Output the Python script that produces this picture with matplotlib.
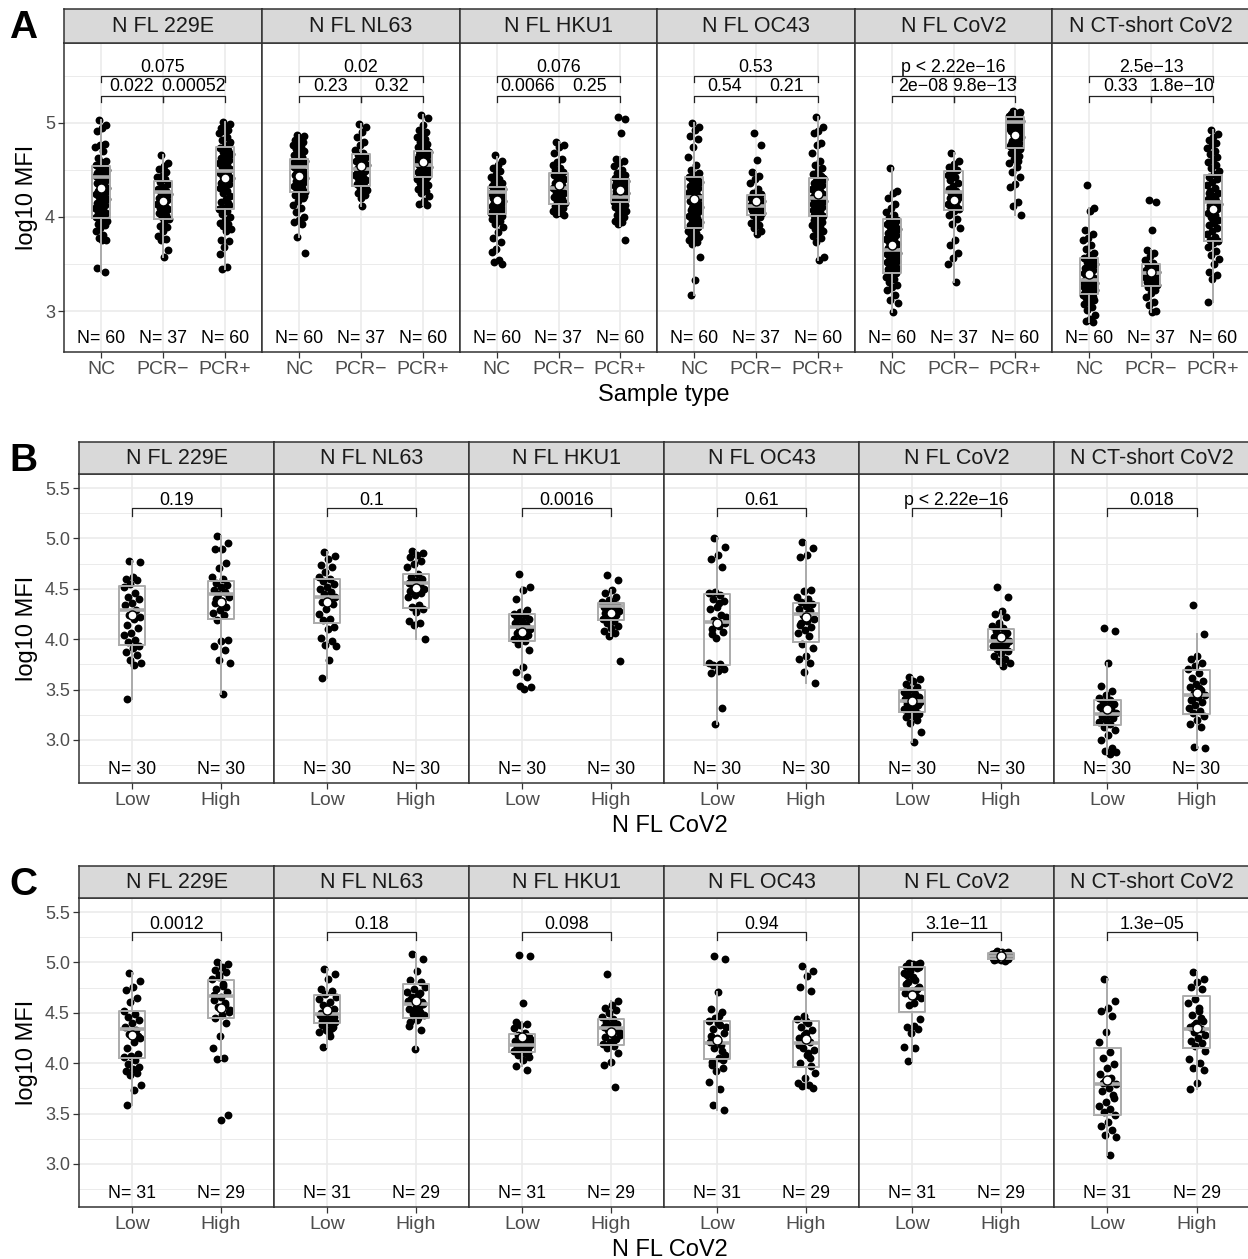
import numpy as np
import matplotlib
matplotlib.use("Agg")
import matplotlib.pyplot as plt

plt.rcParams['font.family'] = ['Liberation Sans', 'DejaVu Sans']

PANELS = ["N FL 229E", "N FL NL63", "N FL HKU1", "N FL OC43", "N FL CoV2", "N CT-short CoV2"]

# ---------------- row A: sample type ----------------
A_GROUPS = ["NC", "PCR\u2212", "PCR+"]
A_N = [60, 37, 60]
A_PVALS = [["0.075", "0.022", "0.00052"],
           ["0.02", "0.23", "0.32"],
           ["0.076", "0.0066", "0.25"],
           ["0.53", "0.54", "0.21"],
           ["p < 2.22e\u221216", "2e\u221208", "9.8e\u221213"],
           ["2.5e\u221213", "0.33", "1.8e\u221210"]]
# whisker low, q1, median, q3, whisker high
A_BOX = [[(3.41, 3.99, 4.43, 4.54, 5.03), (3.57, 3.98, 4.27, 4.38, 4.66), (3.45, 4.08, 4.49, 4.74, 5.01)],
         [(3.79, 4.27, 4.53, 4.62, 4.87), (4.12, 4.33, 4.51, 4.67, 4.99), (4.13, 4.43, 4.55, 4.70, 5.08)],
         [(3.62, 4.03, 4.27, 4.32, 4.64), (4.02, 4.14, 4.31, 4.47, 4.80), (3.90, 4.16, 4.21, 4.40, 4.64)],
         [(3.17, 3.88, 4.21, 4.43, 5.00), (3.82, 4.02, 4.12, 4.23, 4.48), (3.54, 4.01, 4.20, 4.41, 5.06)],
         [(2.99, 3.40, 3.65, 3.98, 4.52), (3.31, 4.07, 4.27, 4.49, 4.68), (4.02, 4.73, 5.01, 5.06, 5.13)],
         [(2.88, 3.18, 3.33, 3.56, 4.10), (2.99, 3.27, 3.40, 3.50, 3.65), (3.10, 3.74, 4.16, 4.45, 4.93)]]
A_MEAN = [[4.31, 4.17, 4.41], [4.44, 4.54, 4.58], [4.18, 4.34, 4.29],
          [4.19, 4.17, 4.24], [3.70, 4.18, 4.87], [3.39, 3.41, 4.09]]

a_229e = [[5.03, 4.98, 4.95, 4.91, 4.78, 4.76, 4.74, 4.70, 4.63, 4.60, 4.58, 4.55, 4.54, 4.52, 4.50, 4.48, 4.47, 4.46, 4.45, 4.44,
           4.43, 4.41, 4.39, 4.37, 4.36, 4.35, 4.33, 4.31, 4.30, 4.28, 4.26, 4.25, 4.24, 4.22, 4.21, 4.19, 4.16, 4.15, 4.13, 4.12,
           4.10, 4.07, 4.05, 4.04, 4.02, 4.00, 3.99, 3.98, 3.96, 3.95, 3.93, 3.91, 3.88, 3.85, 3.81, 3.78, 3.76, 3.75, 3.46, 3.41],
          [4.66, 4.57, 4.54, 4.51, 4.48, 4.44, 4.42, 4.40, 4.37, 4.35, 4.32, 4.30, 4.28, 4.26, 4.24, 4.22, 4.20, 4.18, 4.16, 4.14,
           4.12, 4.10, 4.08, 4.06, 4.04, 4.02, 4.00, 3.98, 3.95, 3.90, 3.89, 3.85, 3.80, 3.77, 3.75, 3.65, 3.57],
          [5.01, 4.99, 4.97, 4.95, 4.93, 4.91, 4.89, 4.85, 4.82, 4.78, 4.75, 4.73, 4.71, 4.69, 4.67, 4.65, 4.63, 4.61, 4.59, 4.57,
           4.55, 4.53, 4.51, 4.49, 4.47, 4.45, 4.43, 4.41, 4.39, 4.37, 4.35, 4.33, 4.31, 4.28, 4.25, 4.22, 4.19, 4.16, 4.13, 4.10,
           4.08, 4.06, 4.03, 4.00, 3.97, 3.94, 3.92, 3.90, 3.87, 3.85, 3.76, 3.74, 3.68, 3.61, 3.47, 3.45, 4.80, 4.62, 4.36, 4.15]]
a_nl63 = [[4.87, 4.86, 4.84, 4.82, 4.80, 4.78, 4.76, 4.74, 4.72, 4.70, 4.68, 4.66, 4.64, 4.62, 4.60, 4.59, 4.57, 4.56, 4.54, 4.53,
           4.51, 4.50, 4.48, 4.47, 4.45, 4.44, 4.42, 4.41, 4.39, 4.38, 4.36, 4.35, 4.33, 4.31, 4.29, 4.27, 4.25, 4.23, 4.20, 4.17,
           4.13, 4.10, 4.05, 4.00, 3.97, 3.95, 3.93, 3.79, 3.62, 4.52, 4.46, 4.40, 4.34, 4.58, 4.63, 4.28, 4.22, 4.69, 4.75, 4.49],
          [4.99, 4.96, 4.90, 4.85, 4.80, 4.76, 4.71, 4.68, 4.66, 4.64, 4.62, 4.60, 4.58, 4.56, 4.55, 4.53, 4.51, 4.49, 4.47, 4.45,
           4.43, 4.41, 4.39, 4.37, 4.35, 4.33, 4.31, 4.29, 4.27, 4.25, 4.23, 4.20, 4.45, 4.52, 4.57, 4.30, 4.12],
          [5.08, 5.05, 4.98, 4.93, 4.90, 4.87, 4.85, 4.83, 4.80, 4.78, 4.76, 4.74, 4.72, 4.70, 4.69, 4.68, 4.66, 4.65, 4.64, 4.62,
           4.61, 4.60, 4.58, 4.57, 4.56, 4.55, 4.54, 4.53, 4.52, 4.51, 4.50, 4.49, 4.48, 4.47, 4.46, 4.45, 4.44, 4.43, 4.42, 4.41,
           4.40, 4.38, 4.36, 4.34, 4.32, 4.30, 4.28, 4.25, 4.22, 4.17, 4.14, 4.13, 4.55, 4.59, 4.63, 4.50, 4.47, 4.67, 4.71, 4.44]]
a_hku1 = [[4.66, 4.60, 4.55, 4.52, 4.49, 4.46, 4.43, 4.40, 4.38, 4.36, 4.34, 4.33, 4.32, 4.31, 4.30, 4.29, 4.28, 4.27, 4.26, 4.25,
           4.24, 4.23, 4.22, 4.21, 4.20, 4.19, 4.18, 4.17, 4.16, 4.15, 4.14, 4.13, 4.12, 4.11, 4.10, 4.09, 4.08, 4.07, 4.06, 4.05,
           4.04, 4.03, 4.02, 4.01, 4.00, 3.98, 3.96, 3.93, 3.89, 3.84, 3.78, 3.73, 3.66, 3.63, 3.54, 3.52, 3.50, 4.27, 4.21, 4.35],
          [4.80, 4.77, 4.74, 4.68, 4.62, 4.58, 4.55, 4.52, 4.50, 4.48, 4.46, 4.45, 4.43, 4.41, 4.40, 4.38, 4.36, 4.34, 4.33, 4.31,
           4.29, 4.27, 4.25, 4.23, 4.21, 4.19, 4.17, 4.15, 4.13, 4.12, 4.10, 4.08, 4.06, 4.04, 4.03, 4.02, 4.30],
          [5.06, 5.04, 4.89, 4.62, 4.60, 4.57, 4.54, 4.50, 4.47, 4.45, 4.43, 4.41, 4.40, 4.39, 4.38, 4.37, 4.36, 4.35, 4.34, 4.33,
           4.32, 4.31, 4.30, 4.29, 4.28, 4.27, 4.26, 4.25, 4.24, 4.23, 4.22, 4.21, 4.21, 4.20, 4.20, 4.19, 4.19, 4.18, 4.18, 4.17,
           4.16, 4.15, 4.14, 4.13, 4.12, 4.11, 4.10, 4.08, 4.06, 4.04, 4.02, 4.00, 3.98, 3.96, 3.95, 3.93, 3.76, 4.28, 4.24, 4.32]]
a_oc43 = [[5.00, 4.96, 4.93, 4.86, 4.83, 4.74, 4.64, 4.55, 4.50, 4.47, 4.45, 4.43, 4.41, 4.39, 4.37, 4.35, 4.33, 4.31, 4.29, 4.27,
           4.25, 4.23, 4.21, 4.19, 4.17, 4.15, 4.13, 4.11, 4.09, 4.07, 4.05, 4.03, 4.01, 3.99, 3.97, 3.95, 3.93, 3.91, 3.89, 3.87,
           3.85, 3.83, 3.81, 3.79, 3.77, 3.75, 3.73, 3.71, 3.57, 3.33, 3.17, 4.20, 4.18, 4.24, 4.26, 4.10, 4.14, 4.36, 3.86, 3.90],
          [4.89, 4.76, 4.61, 4.48, 4.44, 4.40, 4.36, 4.30, 4.26, 4.24, 4.22, 4.20, 4.19, 4.18, 4.17, 4.16, 4.15, 4.14, 4.13, 4.12,
           4.11, 4.10, 4.09, 4.08, 4.07, 4.06, 4.05, 4.04, 4.03, 4.02, 4.00, 3.97, 3.94, 3.91, 3.88, 3.85, 3.82],
          [5.06, 4.96, 4.91, 4.89, 4.79, 4.76, 4.68, 4.60, 4.55, 4.52, 4.49, 4.46, 4.44, 4.42, 4.40, 4.38, 4.36, 4.34, 4.32, 4.30,
           4.28, 4.26, 4.24, 4.22, 4.21, 4.20, 4.19, 4.17, 4.15, 4.13, 4.11, 4.09, 4.07, 4.05, 4.03, 4.01, 3.99, 3.97, 3.95, 3.93,
           3.91, 3.89, 3.87, 3.85, 3.83, 3.80, 3.78, 3.73, 3.57, 3.54, 4.18, 4.23, 4.27, 4.14, 4.10, 4.35, 4.41, 4.48, 4.02, 3.96]]
a_cov2 = [[4.52, 4.28, 4.25, 4.20, 4.14, 4.10, 4.05, 4.02, 3.99, 3.97, 3.95, 3.93, 3.91, 3.89, 3.87, 3.85, 3.83, 3.81, 3.79, 3.77,
           3.75, 3.73, 3.71, 3.69, 3.67, 3.65, 3.64, 3.62, 3.60, 3.58, 3.56, 3.54, 3.52, 3.50, 3.48, 3.46, 3.44, 3.42, 3.40, 3.38,
           3.36, 3.34, 3.31, 3.28, 3.25, 3.22, 3.17, 3.12, 3.08, 2.99, 3.66, 3.70, 3.74, 3.61, 3.57, 3.80, 3.53, 3.90, 3.45, 3.63],
          [4.68, 4.60, 4.56, 4.53, 4.50, 4.48, 4.45, 4.42, 4.39, 4.36, 4.33, 4.30, 4.28, 4.26, 4.24, 4.22, 4.20, 4.18, 4.16, 4.14,
           4.12, 4.10, 4.08, 4.06, 4.02, 3.98, 3.92, 3.88, 3.75, 3.70, 3.62, 3.56, 3.50, 3.31, 4.25, 4.21, 4.15],
          [5.13, 5.12, 5.11, 5.10, 5.09, 5.08, 5.07, 5.06, 5.06, 5.05, 5.05, 5.04, 5.03, 5.03, 5.02, 5.01, 5.01, 5.00, 4.99, 4.98,
           4.97, 4.96, 4.95, 4.93, 4.91, 4.89, 4.87, 4.85, 4.83, 4.81, 4.79, 4.77, 4.75, 4.74, 4.73, 4.72, 4.70, 4.68, 4.65, 4.62,
           4.57, 4.53, 4.48, 4.43, 4.35, 4.32, 4.16, 4.12, 4.02, 5.00, 5.02, 5.04, 4.98, 4.94, 5.07, 5.09, 4.90, 4.84, 4.78, 4.60]]
a_ct = [[4.34, 4.10, 4.06, 3.86, 3.82, 3.78, 3.75, 3.70, 3.66, 3.62, 3.58, 3.56, 3.54, 3.52, 3.50, 3.48, 3.46, 3.44, 3.42, 3.40,
         3.38, 3.36, 3.35, 3.34, 3.33, 3.32, 3.31, 3.30, 3.29, 3.28, 3.27, 3.26, 3.25, 3.24, 3.23, 3.22, 3.21, 3.20, 3.19, 3.18,
         3.17, 3.16, 3.14, 3.12, 3.10, 3.07, 3.04, 3.01, 2.96, 2.91, 2.89, 2.88, 3.36, 3.30, 3.25, 3.45, 3.53, 3.60, 3.20, 3.15],
        [4.18, 4.16, 3.86, 3.65, 3.62, 3.58, 3.54, 3.51, 3.49, 3.47, 3.45, 3.44, 3.43, 3.42, 3.41, 3.40, 3.39, 3.38, 3.37, 3.36,
         3.35, 3.34, 3.33, 3.32, 3.31, 3.30, 3.29, 3.28, 3.27, 3.25, 3.22, 3.19, 3.15, 3.10, 3.06, 3.00, 2.99],
        [4.93, 4.88, 4.85, 4.82, 4.79, 4.76, 4.73, 4.70, 4.67, 4.64, 4.61, 4.58, 4.55, 4.52, 4.49, 4.46, 4.43, 4.40, 4.37, 4.34,
         4.31, 4.28, 4.25, 4.22, 4.19, 4.17, 4.16, 4.14, 4.12, 4.10, 4.08, 4.06, 4.04, 4.02, 4.00, 3.97, 3.94, 3.91, 3.88, 3.85,
         3.82, 3.79, 3.76, 3.74, 3.72, 3.68, 3.64, 3.60, 3.55, 3.50, 3.42, 3.38, 3.34, 3.10, 4.20, 4.13, 4.45, 3.96, 4.26, 4.09]]
A_POINTS = [a_229e, a_nl63, a_hku1, a_oc43, a_cov2, a_ct]

# ---------------- row B: N FL CoV2 low/high ----------------
LH_GROUPS = ["Low", "High"]
B_N = [30, 30]
B_PVALS = [["0.19"], ["0.1"], ["0.0016"], ["0.61"], ["p < 2.22e\u221216"], ["0.018"]]
B_BOX = [[(3.41, 3.94, 4.29, 4.53, 4.78), (3.46, 4.20, 4.45, 4.58, 5.02)],
         [(3.62, 4.16, 4.42, 4.60, 4.87), (4.00, 4.31, 4.56, 4.65, 4.88)],
         [(3.63, 3.98, 4.12, 4.25, 4.52), (4.03, 4.19, 4.33, 4.36, 4.49)],
         [(3.16, 3.74, 4.17, 4.45, 5.00), (3.57, 3.97, 4.25, 4.36, 4.97)],
         [(2.98, 3.28, 3.39, 3.50, 3.63), (3.73, 3.89, 3.98, 4.10, 4.28)],
         [(2.86, 3.15, 3.26, 3.40, 3.76), (2.92, 3.26, 3.45, 3.69, 4.05)]]
B_MEAN = [[4.24, 4.37], [4.37, 4.51], [4.07, 4.26], [4.16, 4.22], [3.39, 4.02], [3.31, 3.47]]

b_229e = [[4.78, 4.77, 4.62, 4.60, 4.59, 4.55, 4.52, 4.46, 4.42, 4.40, 4.36, 4.34, 4.29, 4.24, 4.22, 4.20, 4.14, 4.11, 4.06, 4.04,
           3.99, 3.97, 3.93, 3.91, 3.87, 3.84, 3.79, 3.76, 3.74, 3.41],
          [5.02, 4.96, 4.90, 4.90, 4.76, 4.71, 4.62, 4.60, 4.56, 4.54, 4.52, 4.49, 4.47, 4.45, 4.42, 4.38, 4.36, 4.32, 4.29, 4.26,
           4.24, 4.19, 3.99, 3.98, 3.93, 3.89, 3.79, 3.76, 3.46, 4.40]]
b_nl63 = [[4.87, 4.83, 4.80, 4.74, 4.72, 4.67, 4.62, 4.60, 4.58, 4.55, 4.52, 4.50, 4.47, 4.45, 4.42, 4.40, 4.37, 4.35, 4.30, 4.25,
           4.20, 4.19, 4.12, 4.10, 4.01, 3.98, 3.94, 3.93, 3.79, 3.62],
          [4.88, 4.86, 4.84, 4.82, 4.78, 4.75, 4.72, 4.65, 4.62, 4.60, 4.58, 4.56, 4.54, 4.52, 4.50, 4.49, 4.48, 4.46, 4.44, 4.42,
           4.34, 4.32, 4.30, 4.27, 4.18, 4.16, 4.14, 4.00, 4.55, 4.57]]
b_hku1 = [[4.65, 4.52, 4.49, 4.40, 4.29, 4.27, 4.25, 4.24, 4.22, 4.20, 4.18, 4.16, 4.14, 4.12, 4.10, 4.08, 4.06, 4.04, 4.02, 4.00,
           3.98, 3.95, 3.89, 3.72, 3.67, 3.63, 3.54, 3.53, 3.51, 4.21],
          [4.64, 4.59, 4.49, 4.46, 4.42, 4.39, 4.37, 4.36, 4.35, 4.34, 4.33, 4.32, 4.31, 4.30, 4.28, 4.27, 4.26, 4.24, 4.22, 4.20,
           4.18, 4.16, 4.13, 4.11, 4.08, 4.06, 4.03, 3.78, 4.29, 4.25]]
b_oc43 = [[5.00, 4.92, 4.84, 4.80, 4.72, 4.47, 4.46, 4.44, 4.40, 4.38, 4.32, 4.30, 4.24, 4.19, 4.16, 4.13, 4.10, 4.07, 4.01, 3.76,
           3.75, 3.74, 3.70, 3.68, 3.66, 3.32, 3.16, 4.22, 4.36, 4.05],
          [4.97, 4.91, 4.84, 4.82, 4.49, 4.48, 4.42, 4.40, 4.37, 4.35, 4.33, 4.30, 4.28, 4.24, 4.20, 4.18, 4.14, 4.12, 4.09, 4.06,
           4.03, 3.95, 3.91, 3.83, 3.80, 3.76, 3.67, 3.57, 4.26, 4.16]]
b_cov2 = [[3.63, 3.61, 3.59, 3.56, 3.53, 3.51, 3.48, 3.46, 3.45, 3.43, 3.42, 3.41, 3.40, 3.39, 3.38, 3.37, 3.36, 3.35, 3.33, 3.31,
           3.30, 3.28, 3.26, 3.24, 3.23, 3.20, 3.17, 3.08, 2.98, 3.44],
          [4.52, 4.42, 4.28, 4.25, 4.22, 4.16, 4.13, 4.11, 4.08, 4.06, 4.04, 4.02, 4.00, 3.99, 3.98, 3.97, 3.96, 3.95, 3.94, 3.93,
           3.92, 3.90, 3.88, 3.86, 3.83, 3.80, 3.78, 3.76, 3.73, 4.10]]
b_ct = [[4.11, 4.08, 3.76, 3.54, 3.49, 3.45, 3.42, 3.40, 3.38, 3.36, 3.34, 3.33, 3.31, 3.29, 3.27, 3.26, 3.24, 3.22, 3.20, 3.18,
         3.16, 3.13, 3.10, 3.05, 3.00, 2.92, 2.89, 2.88, 2.86, 3.28],
        [4.34, 4.05, 3.83, 3.80, 3.76, 3.73, 3.70, 3.66, 3.62, 3.59, 3.56, 3.53, 3.50, 3.47, 3.45, 3.43, 3.40, 3.38, 3.35, 3.32,
         3.29, 3.27, 3.24, 3.20, 3.16, 3.13, 2.93, 2.92, 3.52, 3.41]]
B_POINTS = [b_229e, b_nl63, b_hku1, b_oc43, b_cov2, b_ct]

# ---------------- row C ----------------
C_N = [31, 29]
C_PVALS = [["0.0012"], ["0.18"], ["0.098"], ["0.94"], ["3.1e\u221211"], ["1.3e\u221205"]]
C_BOX = [[(3.59, 4.05, 4.34, 4.52, 4.90), (4.04, 4.45, 4.67, 4.83, 5.00)],
         [(4.16, 4.40, 4.49, 4.68, 4.94), (4.14, 4.45, 4.59, 4.79, 5.08)],
         [(3.97, 4.11, 4.18, 4.29, 4.41), (3.98, 4.18, 4.35, 4.44, 4.62)],
         [(3.54, 4.04, 4.20, 4.42, 4.71), (3.75, 3.96, 4.20, 4.42, 4.94)],
         [(4.02, 4.51, 4.74, 4.96, 4.99), (5.01, 5.03, 5.06, 5.09, 5.11)],
         [(3.09, 3.49, 3.79, 4.15, 4.84), (3.74, 4.15, 4.34, 4.67, 4.91)]]
C_MEAN = [[4.28, 4.55], [4.53, 4.62], [4.26, 4.31], [4.23, 4.24], [4.68, 5.06], [3.83, 4.35]]

c_229e = [[4.90, 4.82, 4.76, 4.73, 4.65, 4.61, 4.52, 4.49, 4.46, 4.43, 4.40, 4.36, 4.33, 4.29, 4.25, 4.21, 4.15, 4.09, 4.07, 4.06,
           4.03, 3.99, 3.96, 3.94, 3.92, 3.90, 3.88, 3.78, 3.73, 3.59, 4.27],
          [5.00, 4.98, 4.96, 4.93, 4.91, 4.88, 4.84, 4.79, 4.74, 4.71, 4.66, 4.63, 4.58, 4.56, 4.51, 4.48, 4.45, 4.40, 4.27, 4.15,
           4.05, 4.04, 3.49, 3.44, 4.68, 4.60, 4.86, 4.53, 4.77]]
c_nl63 = [[4.94, 4.89, 4.84, 4.74, 4.72, 4.69, 4.64, 4.61, 4.58, 4.54, 4.51, 4.48, 4.47, 4.45, 4.41, 4.40, 4.38, 4.36, 4.33, 4.31,
           4.27, 4.16, 4.46, 4.43, 4.50, 4.35, 4.56, 4.66, 4.30, 4.42, 4.52],
          [5.08, 5.03, 4.92, 4.83, 4.81, 4.74, 4.71, 4.68, 4.64, 4.61, 4.58, 4.54, 4.51, 4.49, 4.48, 4.43, 4.41, 4.33, 4.14, 4.62,
           4.56, 4.66, 4.59, 4.46, 4.37, 4.70, 4.53, 4.76, 4.45]]
c_hku1 = [[5.07, 5.06, 4.60, 4.41, 4.39, 4.38, 4.35, 4.30, 4.28, 4.26, 4.24, 4.22, 4.20, 4.19, 4.18, 4.17, 4.16, 4.15, 4.14, 4.12,
           4.10, 4.08, 4.06, 4.03, 3.97, 3.93, 4.21, 4.23, 4.25, 4.13, 4.11],
          [4.89, 4.62, 4.58, 4.55, 4.53, 4.50, 4.46, 4.44, 4.41, 4.39, 4.38, 4.36, 4.35, 4.33, 4.31, 4.29, 4.26, 4.24, 4.21, 4.19,
           4.17, 4.15, 4.10, 4.01, 3.98, 3.76, 4.34, 4.28, 4.22]]
c_oc43 = [[5.06, 5.03, 4.71, 4.54, 4.51, 4.45, 4.42, 4.38, 4.34, 4.30, 4.25, 4.21, 4.18, 4.15, 4.08, 4.05, 4.01, 3.95, 3.92, 3.81,
           3.74, 3.59, 3.54, 4.40, 4.27, 4.12, 4.23, 4.36, 4.47, 3.98, 4.03],
          [4.97, 4.92, 4.87, 4.76, 4.72, 4.47, 4.44, 4.40, 4.36, 4.33, 4.30, 4.25, 4.21, 4.15, 4.13, 4.08, 4.00, 3.97, 3.85, 3.80,
           3.78, 3.77, 3.75, 4.42, 4.18, 4.05, 4.28, 3.90, 4.10]]
c_cov2 = [[4.99, 4.99, 4.98, 4.97, 4.95, 4.94, 4.90, 4.83, 4.81, 4.76, 4.72, 4.70, 4.67, 4.58, 4.44, 4.37, 4.36, 4.34, 4.30, 4.16,
           4.15, 4.02, 4.96, 4.86, 4.79, 4.74, 4.92, 4.65, 4.60, 4.88, 4.98],
          [5.11, 5.10, 5.10, 5.09, 5.09, 5.08, 5.08, 5.07, 5.07, 5.07, 5.06, 5.06, 5.06, 5.06, 5.05, 5.05, 5.05, 5.04, 5.04, 5.04,
           5.03, 5.03, 5.03, 5.02, 5.02, 5.01, 5.06, 5.07, 5.05]]
c_ct = [[4.84, 4.62, 4.55, 4.52, 4.47, 4.31, 4.21, 4.11, 4.05, 3.99, 3.95, 3.89, 3.85, 3.82, 3.79, 3.75, 3.72, 3.68, 3.62, 3.58,
         3.55, 3.52, 3.49, 3.42, 3.38, 3.34, 3.29, 3.27, 3.09, 3.80, 3.65],
        [4.91, 4.84, 4.81, 4.76, 4.74, 4.64, 4.60, 4.55, 4.48, 4.42, 4.40, 4.36, 4.34, 4.31, 4.28, 4.25, 4.22, 4.20, 4.17, 4.04,
         4.00, 3.95, 3.93, 3.80, 3.74, 4.45, 4.38, 4.12, 4.52]]
C_POINTS = [c_229e, c_nl63, c_hku1, c_oc43, c_cov2, c_ct]

# ---------------- drawing ----------------
W, H = 1248, 1259
fig = plt.figure(figsize=(W / 100, H / 100), dpi=100)
fig.patch.set_facecolor('white')

BORDER = '#333333'
GRID = '#EBEBEB'
BOXC = '#ABABAB'


def px_axes(x0, y0, x1, y1):
    return fig.add_axes([x0 / W, 1 - y1 / H, (x1 - x0) / W, (y1 - y0) / H])


def jitter(n, width=0.1):
    k = np.arange(n)
    return ((k * 0.6180339887 + 0.31) % 1.0 - 0.5) * 2 * width


def draw_row(xs, strip_top, top, bottom, ylim, majors, minors, ylabfmt, groups, counts,
             points, boxes, means, pvals, comps, letter, letter_y, xlabel, xlabel_xy):
    ng = len(groups)
    pos = np.arange(1, ng + 1)
    for i, name in enumerate(PANELS):
        ax = px_axes(xs[i], top, xs[i + 1], bottom)
        ax.set_xlim(0.4, ng + 0.6)
        ax.set_ylim(*ylim)
        ax.set_xticks(pos)
        ax.set_xticklabels(groups)
        ax.set_yticks(majors)
        ax.set_yticks(minors, minor=True)
        ax.set_yticklabels([ylabfmt.format(v) for v in majors])
        ax.grid(which='major', color=GRID, lw=1.2)
        ax.grid(which='minor', axis='y', color=GRID, lw=0.7)
        ax.set_axisbelow(True)
        ax.tick_params(which='major', length=4.5, width=0.9, color=BORDER)
        ax.tick_params(which='minor', length=0)
        ax.tick_params(axis='x', labelsize=14, labelcolor='#4D4D4D', pad=2)
        ax.tick_params(axis='y', labelsize=13, labelcolor='#4D4D4D', pad=2)
        if i > 0:
            ax.tick_params(axis='y', left=False, labelleft=False)
        for sp in ax.spines.values():
            sp.set_color(BORDER)
            sp.set_linewidth(1.1)

        for g in range(ng):
            vals = np.array(points[i][g])
            ax.scatter(pos[g] + jitter(len(vals)), vals, s=32, c='black', lw=0, zorder=2)
        stats = [dict(whislo=b[0], q1=b[1], med=b[2], q3=b[3], whishi=b[4]) for b in boxes[i]]
        ax.bxp(stats, positions=pos, widths=0.3, showfliers=False, showcaps=False,
               manage_ticks=False,
               boxprops=dict(color=BOXC, lw=1.4),
               whiskerprops=dict(color=BOXC, lw=1.4),
               medianprops=dict(color=BOXC, lw=2.6), zorder=3)
        ax.scatter(pos, means[i], s=42, c='white', edgecolors='black', lw=1.0, zorder=4)

        for g in range(ng):
            ax.text(pos[g], 2.71, f"N= {counts[g]}", ha='center', va='center', fontsize=12.8, color='black')

        for (g1, g2, yb, tip, ylab), lab in zip(comps, pvals[i]):
            ax.plot([g1, g1, g2, g2], [yb - tip, yb, yb, yb - tip], color='#222222', lw=0.9, zorder=5)
            ax.text((g1 + g2) / 2, ylab, lab, ha='center', va='center', fontsize=12.8, color='black')

        sax = px_axes(xs[i], strip_top, xs[i + 1], top)
        sax.set_facecolor('#D9D9D9')
        sax.set_xticks([])
        sax.set_yticks([])
        for sp in sax.spines.values():
            sp.set_color(BORDER)
            sp.set_linewidth(1.1)
        sax.text(0.5, 0.5, name, ha='center', va='center', fontsize=15.5, color='#1A1A1A',
                 transform=sax.transAxes)

    fig.text(27.5 / W, 1 - (top + bottom) / 2 / H, "log10 MFI", rotation=90,
             ha='center', va='center', fontsize=17)
    fig.text(xlabel_xy[0] / W, 1 - xlabel_xy[1] / H, xlabel, ha='center', va='center', fontsize=17)
    fig.text(23 / W, 1 - letter_y / H, letter, ha='center', va='center', fontsize=28, fontweight='bold')


XS_A = [64, 262, 460, 657, 855, 1052, 1250]
XS_BC = [79, 274, 469, 664, 859, 1054, 1250]

COMPS_A = [(1, 3, 5.50, 0.06, 5.588), (1, 2, 5.287, 0.06, 5.386), (2, 3, 5.287, 0.06, 5.386)]
COMPS_BC = [(1, 2, 5.30, 0.08, 5.38)]

draw_row(XS_A, 9, 43, 352, (2.564, 5.85), [3, 4, 5], [3.5, 4.5, 5.5], "{:.0f}",
         A_GROUPS, A_N, A_POINTS, A_BOX, A_MEAN, A_PVALS, COMPS_A, "A", 28, "Sample type", (664, 395))

BC_MAJ = [3.0, 3.5, 4.0, 4.5, 5.0, 5.5]
BC_MIN = [2.75, 3.25, 3.75, 4.25, 4.75, 5.25]
draw_row(XS_BC, 442, 474, 783, (2.573, 5.64), BC_MAJ, BC_MIN, "{:.1f}",
         LH_GROUPS, B_N, B_POINTS, B_BOX, B_MEAN, B_PVALS, COMPS_BC, "B", 461, "N FL CoV2", (670, 826))
draw_row(XS_BC, 866, 898, 1207, (2.573, 5.64), BC_MAJ, BC_MIN, "{:.1f}",
         LH_GROUPS, C_N, C_POINTS, C_BOX, C_MEAN, C_PVALS, COMPS_BC, "C", 885, "N FL CoV2", (670, 1250))

fig.savefig("out.png", dpi=100)
